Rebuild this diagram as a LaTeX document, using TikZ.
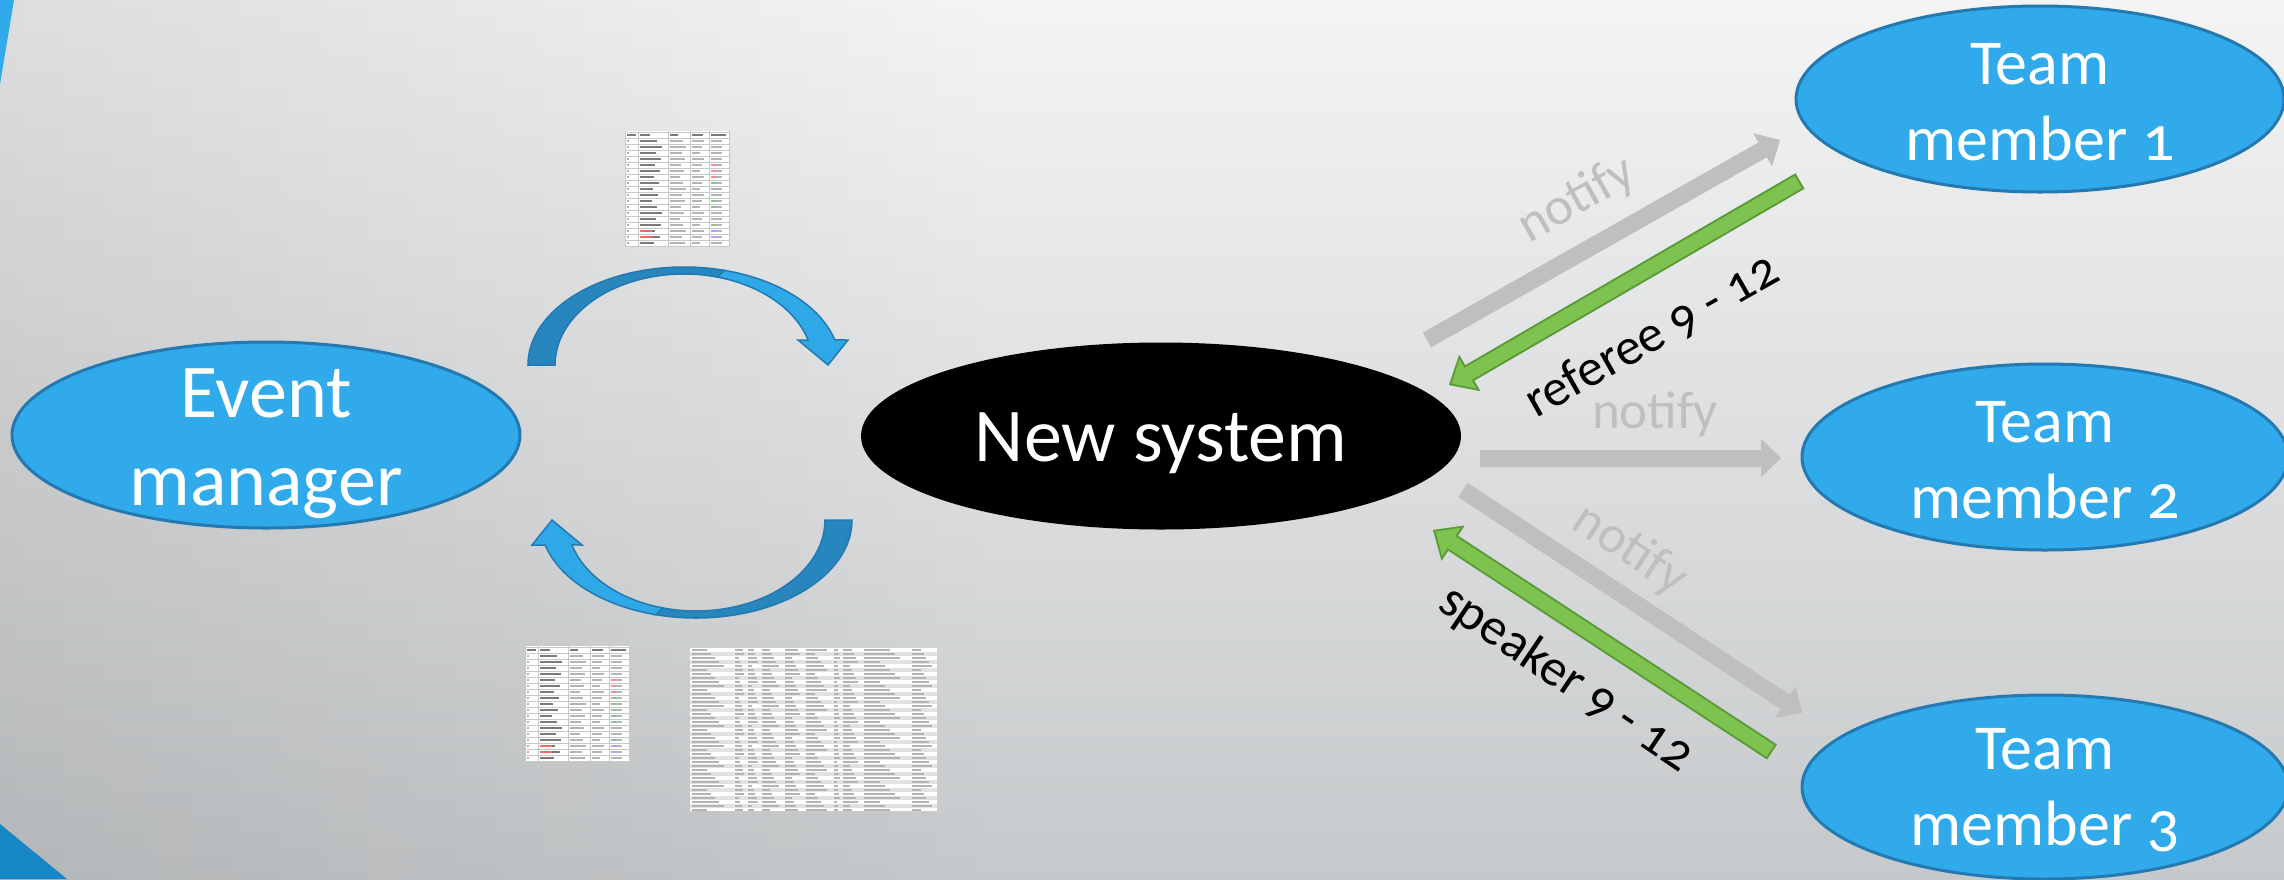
\documentclass[tikz,border=0pt]{standalone}
\usepackage{fontspec}
\setmainfont{Carlito}[Numbers=OldStyle]
\usepackage{xcolor}
\usepackage{tikz}
\usetikzlibrary{shapes.geometric,arrows.meta}

\definecolor{bgtop}{HTML}{F4F4F4}
\definecolor{bgbottom}{HTML}{C6C9CB}
\definecolor{skyblue}{HTML}{31AAEB}
\definecolor{skyline}{HTML}{2479B0}
\definecolor{loopblue}{HTML}{2FA8E8}
\definecolor{deepblue}{HTML}{2886BF}
\definecolor{cornerblue}{HTML}{1586C6}
\definecolor{notifygray}{HTML}{BFBFBF}
\definecolor{replygreen}{HTML}{7EC24F}
\definecolor{replyline}{HTML}{5A9A38}
\definecolor{sheetgrid}{HTML}{C8C8C8}
\definecolor{sheetink}{HTML}{B4B4B4}
\definecolor{sheetbold}{HTML}{7A7A7A}
\definecolor{sheetband}{HTML}{E2E2E2}

\tikzset{
  person/.style={ellipse, draw=skyline, line width=3pt, fill=skyblue,
    minimum width=488pt, minimum height=186pt, inner sep=0pt},
  bigword/.style={text=white, align=center, font=\fontsize{76}{88}\selectfont},
  teamword/.style={text=white, align=center, font=\fontsize{64}{76}\selectfont},
  notifyarrow/.style={notifygray, line width=17pt,
    -{Triangle[width=38pt,length=20pt,line width=0.5pt]}},
  replyedge/.style={replyline, line width=18pt,
    -{Triangle[width=42pt,length=24pt,line width=0.5pt]}},
  replyfill/.style={replygreen, line width=14pt, shorten <=2pt, shorten >=3pt,
    -{Triangle[width=34pt,length=19pt,line width=0.5pt]}},
  notifyword/.style={text=notifygray, font=\fontsize{53}{60}\selectfont},
  replyword/.style={text=black, font=\fontsize{52}{60}\selectfont},
  curveback/.style={fill=deepblue, draw=skyline, line width=1.5pt},
  curvefront/.style={fill=loopblue, draw=skyline, line width=1.5pt},
  smallsheet/.pic={
    \fill[white] (0,0) rectangle (104,115);
    \fill[sheetbold] (1.5,3) rectangle ++(9,1.5);
    \fill[sheetbold] (15,3) rectangle ++(10,1.5);
    \fill[sheetbold] (45,3) rectangle ++(8,1.5);
    \fill[sheetbold] (67,3) rectangle ++(11,1.5);
    \fill[sheetbold] (85.5,3) rectangle ++(15,1.5);
    \foreach \r in {1,...,18} {
      \fill[sheetink] (1.5,{6*\r+3.3}) rectangle ++(2.5,1.5);
      \fill[sheetbold] (15,{6*\r+3.3}) rectangle ++({12+mod(\r*5,11)},1.5);
      \fill[sheetink] (45,{6*\r+3.3}) rectangle ++({10+mod(\r*3,7)},1.5);
      \fill[sheetink] (67,{6*\r+3.3}) rectangle ++({8+mod(\r*4,6)},1.5);
      \fill[sheetink] (85.5,{6*\r+3.3}) rectangle ++(11,1.5);
    }
    \foreach \r in {16,17} \fill[red!60] (15,{6*\r+3.3}) rectangle ++(12,1.5);
    \foreach \r in {5,6,7} \fill[red!45] (85.5,{6*\r+3.3}) rectangle ++(5,1.5);
    \foreach \r in {8,...,12,15} \fill[green!50!black!45] (85.5,{6*\r+3.3}) rectangle ++(5,1.5);
    \foreach \r in {16,17} \fill[blue!35] (85.5,{6*\r+3.3}) rectangle ++(6,1.5);
    \foreach \x in {0,13,43,65,84,104} \draw[sheetgrid, line width=0.6pt] (\x,0) -- (\x,115);
    \foreach \r in {0,...,19} \draw[sheetgrid, line width=0.6pt] (0,{6*\r+1}) -- (104,{6*\r+1});
  },
  bigsheet/.pic={
    \fill[white] (0,0) rectangle (247,163);
    \foreach \r in {1,3,...,39} \fill[sheetband] (0,{4*\r}) rectangle (247,{4*\r+4});
    \foreach \r in {0,...,40}
      \foreach \a/\b in {0/43,43/56,56/70,70/93,93/114,114/142,142/151,151/172,172/220,220/247}
        \fill[sheetink] ({\a+1.5},{4*\r+1.4}) rectangle ++({(\b-\a)*(0.35+0.1*mod(\r+\a,5))},1.2);
  },
  sheetloop/.pic={
    \draw[curveback] (180:156 and 98)
      arc[start angle=180, end angle=285, x radius=156, y radius=98]
      -- (285:129 and 91)
      arc[start angle=285, end angle=180, x radius=129, y radius=91] -- cycle;
    \draw[curvefront] (285:156 and 98)
      arc[start angle=285, end angle=345.2, x radius=156, y radius=98]
      -- (164,-25) -- (144,0) -- (114,-25)
      -- (344.1:129 and 91)
      arc[start angle=344.1, end angle=285, x radius=129, y radius=91] -- cycle;
  }
}

\begin{document}
\begin{tikzpicture}[x=1pt,y=-1pt]
  \useasboundingbox (0,0) rectangle (2284,879);
  \clip (0,0) rectangle (2284,879);
  % background
  \shade[top color=bgtop, bottom color=bgbottom] (0,0) rectangle (2284,879);
  \begin{scope}[blend mode=multiply]
    \shade[left color=black!9, right color=white] (0,0) rectangle (1000,879);
  \end{scope}
  \fill[skyblue] (0,0) -- (14,0) -- (0,84) -- cycle;
  \fill[cornerblue] (0,824) -- (67,879) -- (0,879) -- cycle;

  % spreadsheets
  \pic at (625,131) {smallsheet};
  \pic at (525,646) {smallsheet};
  \pic at (690,648) {bigsheet};

  % round trip
  \pic at (684,365) {sheetloop};
  \pic[rotate=180] at (696,520) {sheetloop};

  % the nodes
  \node[person, minimum width=508pt] (em) at (266,435) {};
  \node[ellipse, fill=black, minimum width=600pt, minimum height=187pt] (ns) at (1161,436) {};
  \node[person] (tm1) at (2040,99) {};
  \node[person, minimum width=486pt] (tm2) at (2045,457) {};
  \node[person, minimum width=486pt, minimum height=184pt] (tm3) at (2045,787) {};
  \node[bigword, yshift=-9pt] (emtext) at (em) {Event\\manager};
  \node[bigword, yshift=-7pt] (nstext) at (ns) {New system};
  \node[teamword, yshift=-3pt] (tm1text) at (tm1) {Team\\member 1};
  \node[teamword, yshift=-3pt] (tm2text) at (tm2) {Team\\member 2};
  \node[teamword, yshift=-3pt] (tm3text) at (tm3) {Team\\member 3};

  % arrows to and from the team
  \coordinate (n1s) at (1427,340);
  \coordinate (n1e) at (1780,140);
  \coordinate (r1s) at (1800,181);
  \coordinate (r1e) at (1449,385);
  \coordinate (n2s) at (1480,458);
  \coordinate (n2e) at (1781,458);
  \coordinate (n3s) at (1463,490);
  \coordinate (n3e) at (1802,713);
  \coordinate (r3s) at (1772,752);
  \coordinate (r3e) at (1433,530);
  \draw[notifyarrow] (n1s) -- (n1e);
  \draw[replyedge] (r1s) -- (r1e);
  \draw[replyfill] (r1s) -- (r1e);
  \draw[notifyarrow] (n2s) -- (n2e);
  \draw[notifyarrow] (n3s) -- (n3e);
  \draw[replyedge] (r3s) -- (r3e);
  \draw[replyfill] (r3s) -- (r3e);

  \node[notifyword, rotate=29.4] (notify1) at (1577,200) {notify};
  \node[replyword, rotate=29.5] (referee) at (1652,336) {referee 9 - 12};
  \node[notifyword] (notify2) at (1655,414) {notify};
  \node[notifyword, rotate=-33.4] (notify3) at (1630,550) {notify};
  \node[replyword, rotate=-34] (speaker) at (1566,679) {speaker 9 - 12};
\end{tikzpicture}
\end{document}
